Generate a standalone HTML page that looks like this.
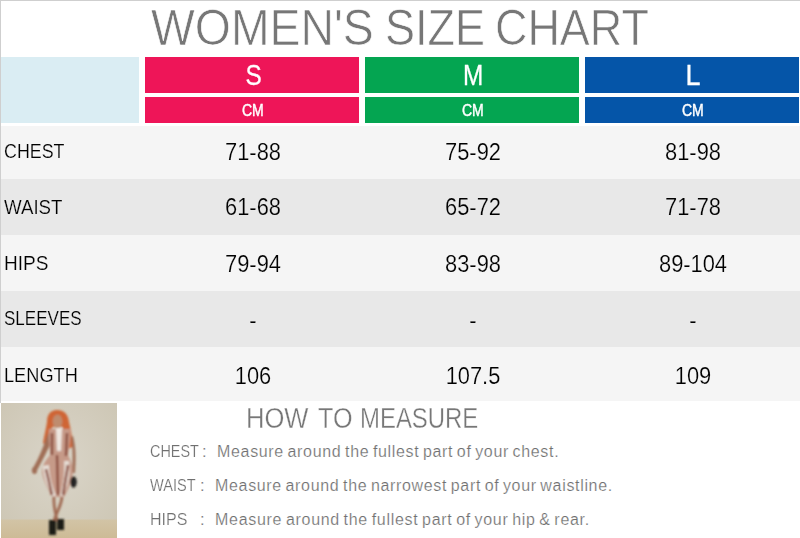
<!DOCTYPE html>
<html><head><meta charset="utf-8">
<style>
*{margin:0;padding:0;box-sizing:border-box}
html,body{width:800px;height:538px;overflow:hidden;background:#fff}
body{position:relative;font-family:"Liberation Sans",sans-serif}
.a{position:absolute;white-space:nowrap}
#bt{left:0;top:0;width:800px;height:1px;background:#cfcfcf}
#bl{left:0;top:0;width:1px;height:403px;background:#cfcfcf}
.hd{top:57px;height:36px;color:#fff;font-size:29px;line-height:37px;text-align:center;padding-left:3px}
.cm{top:97px;height:26px;color:#fff;font-size:16.5px;line-height:27px;text-align:center;padding-left:1px}
.cm span{display:inline-block;transform:scaleX(0.85);-webkit-text-stroke:0.45px #fff}
.hd span{display:inline-block;transform:scaleX(0.84);-webkit-text-stroke:0.3px #fff}
#lb{left:1px;top:57px;width:138px;height:66px;background:#daedf3}
.row{left:1px;width:799px;height:56px}
.lab{left:4px;font-size:21px;color:#000;line-height:54px;transform-origin:0 50%}
.val{width:214px;text-align:center;font-size:23px;color:#000;line-height:55px;transform:scaleX(0.95)}
.ms{font-size:16.5px;color:#707070;-webkit-text-stroke:0.2px #fff;line-height:22px;transform-origin:0 50%}
.how{top:402px;font-size:29px;color:#777;-webkit-text-stroke:0.35px #fff;line-height:32px;transform-origin:0 50%}
.tt{top:0;font-size:50px;color:#777;line-height:56px;-webkit-text-stroke:0.7px #fff;transform-origin:0 50%}
</style></head><body>
<div class="a" id="bt"></div>
<div class="a" id="bl"></div>
<div class="a tt" id="tw1" style="left:151.1px;transform:scaleX(0.928)">WOMEN'S</div>
<div class="a tt" id="tw2" style="left:384.8px;transform:scaleX(0.9)">SIZE</div>
<div class="a tt" id="tw3" style="left:495.3px;transform:scaleX(0.898)">CHART</div>
<div class="a" id="lb"></div>
<div class="a hd" style="left:145px;width:214px;background:#ee1558"><span id="hS">S</span></div>
<div class="a hd" style="left:365px;width:214px;background:#04a551"><span id="hM">M</span></div>
<div class="a hd" style="left:585px;width:214px;background:#0555a8"><span id="hL" style="transform:scaleX(0.93)">L</span></div>
<div class="a cm" style="left:145px;width:214px;background:#ee1558"><span id="cS">CM</span></div>
<div class="a cm" style="left:365px;width:214px;background:#04a551"><span id="cM">CM</span></div>
<div class="a cm" style="left:585px;width:214px;background:#0555a8"><span id="cL">CM</span></div>

<div class="a row" style="top:126px;height:53px;background:#f5f5f5"></div>
<div class="a row" style="top:179px;background:#e8e8e8"></div>
<div class="a row" style="top:235px;background:#f5f5f5"></div>
<div class="a row" style="top:291px;background:#e8e8e8"></div>
<div class="a row" style="top:347px;height:54px;background:#f5f5f5"></div>

<div class="a lab" id="l1" style="-webkit-text-stroke:0.2px #f5f5f5;transform:scaleX(0.850);top:124px">CHEST</div>
<div class="a lab" id="l2" style="-webkit-text-stroke:0.2px #e8e8e8;transform:scaleX(0.890);top:180px">WAIST</div>
<div class="a lab" id="l3" style="-webkit-text-stroke:0.2px #f5f5f5;transform:scaleX(0.908);top:236px">HIPS</div>
<div class="a lab" id="l4" style="-webkit-text-stroke:0.2px #e8e8e8;transform:scaleX(0.811);top:291px">SLEEVES</div>
<div class="a lab" id="l5" style="-webkit-text-stroke:0.2px #f5f5f5;transform:scaleX(0.866);top:348px">LENGTH</div>

<div class="a val" style="-webkit-text-stroke:0.2px #f5f5f5;top:125px;left:146px">71-88</div>
<div class="a val" style="-webkit-text-stroke:0.2px #f5f5f5;top:125px;left:366px">75-92</div>
<div class="a val" style="-webkit-text-stroke:0.2px #f5f5f5;top:125px;left:586px">81-98</div>
<div class="a val" style="-webkit-text-stroke:0.2px #e8e8e8;top:180px;left:146px">61-68</div>
<div class="a val" style="-webkit-text-stroke:0.2px #e8e8e8;top:180px;left:366px">65-72</div>
<div class="a val" style="-webkit-text-stroke:0.2px #e8e8e8;top:180px;left:586px">71-78</div>
<div class="a val" style="-webkit-text-stroke:0.2px #f5f5f5;top:237px;left:146px">79-94</div>
<div class="a val" style="-webkit-text-stroke:0.2px #f5f5f5;top:237px;left:366px">83-98</div>
<div class="a val" style="-webkit-text-stroke:0.2px #f5f5f5;top:237px;left:586px">89-104</div>
<div class="a val" style="-webkit-text-stroke:0.2px #e8e8e8;top:293px;left:146px">-</div>
<div class="a val" style="-webkit-text-stroke:0.2px #e8e8e8;top:293px;left:366px">-</div>
<div class="a val" style="-webkit-text-stroke:0.2px #e8e8e8;top:293px;left:586px">-</div>
<div class="a val" style="-webkit-text-stroke:0.2px #f5f5f5;top:349px;left:146px">106</div>
<div class="a val" style="-webkit-text-stroke:0.2px #f5f5f5;top:349px;left:366px">107.5</div>
<div class="a val" style="-webkit-text-stroke:0.2px #f5f5f5;top:349px;left:586px">109</div>

<svg class="a" id="photo" style="left:1px;top:403px" width="116" height="135" viewBox="0 0 116 135">
<defs>
<radialGradient id="wall" cx="0.5" cy="0.45" r="0.8"><stop offset="0" stop-color="#dad5c9"/><stop offset="1" stop-color="#cbc4b1"/></radialGradient>
<linearGradient id="floor" x1="0" y1="0" x2="0" y2="1"><stop offset="0" stop-color="#d2c4a6"/><stop offset="1" stop-color="#cdbb96"/></linearGradient>
<filter id="fblur" x="-30%" y="-30%" width="160%" height="160%"><feGaussianBlur stdDeviation="0.9"/></filter>
</defs>
<rect width="116" height="135" fill="url(#wall)"/>
<rect y="116.5" width="116" height="18.5" fill="url(#floor)"/>
<g filter="url(#fblur)">
<path d="M56 7 C49 7 46 12 46 19 C45 26 43 33 42 40 C44 42 48 42 50 40 L51 24 L62 24 L63 44 C66 46 70 46 72 43 C71 35 70 27 68 19 C67 11 63 7 56 7 Z" fill="#cf6534"/>
<ellipse cx="56.5" cy="18.5" rx="4.8" ry="7" fill="#bf8c6e"/>
<path d="M47 30 C43 42 39 53 32 65 L35.5 68 C42 57 47 46 51 38 Z" fill="#a06e56"/>
<path d="M70 34 C72 45 72 56 71 70 L74 70 C75 56 75 44 72 33 Z" fill="#a06e56"/>
<path d="M48 26 L69 26 C70 36 68 46 67 52 C71 60 73 67 71 75 C69 83 66 89 63 94 L51 94 C47 86 42 77 41 69 C41 62 45 57 49 52 C49 44 47 34 48 26 Z" fill="#c69a88"/>
<path d="M55 25 L61 25 L60 48 L56 48 Z" fill="#eee7e1"/>
<path d="M42 63 C42 72 46 83 51 93 L55 93 C51 82 48 72 48 62 Z" fill="#e8e0d8"/>
<path d="M63 58 C64 69 62 82 59 93 L62 93 C67 83 70 70 68 58 Z" fill="#e6ddd4"/>
<path d="M51 30 L51 52 M66 30 L65 53 M45 66 L51 92 M56 52 L57 92 M67 62 L62 92" stroke="#8a4a3a" stroke-width="2.4" fill="none"/>
<ellipse cx="33.5" cy="67.5" rx="2.6" ry="3.4" fill="#a06e56"/>
<path d="M53 94 C52 104 55 110 56 118 M61 94 C60 104 55 110 53 118" stroke="#a06a52" stroke-width="2.8" fill="none"/>
<ellipse cx="72.5" cy="79" rx="3.3" ry="5.8" fill="#242220"/>
<path d="M48 117 L55 117 L55 132 L48 132 Z" fill="#1c1a18"/>
<path d="M56 116 L63 116 L63 127 L56 127 Z" fill="#1c1a18"/>
</g>
</svg>

<div class="a how" id="hw1" style="left:246.2px;transform:scaleX(0.882)">HOW</div>
<div class="a how" id="hw2" style="left:318px;transform:scaleX(0.868)">TO</div>
<div class="a how" id="hw3" style="left:359.8px;transform:scaleX(0.825)">MEASURE</div>
<div class="a ms" id="k1" style="transform:scaleX(0.873);left:150px;top:440px">CHEST</div>
<div class="a ms" id="c1" style="left:202px;top:440px">:</div>
<div class="a ms" id="m1" style="font-size:16px;letter-spacing:0.67px;word-spacing:-1.5px;left:217px;top:441px">Measure around the fullest part of your chest.</div>
<div class="a ms" id="k2" style="transform:scaleX(0.882);left:150px;top:474px">WAIST</div>
<div class="a ms" id="c2" style="left:200px;top:474px">:</div>
<div class="a ms" id="m2" style="font-size:16px;letter-spacing:0.67px;word-spacing:-1.5px;left:215px;top:475px">Measure around the narrowest part of your waistline.</div>
<div class="a ms" id="k3" style="transform:scaleX(0.97);left:150px;top:508px">HIPS</div>
<div class="a ms" id="c3" style="left:200px;top:508px">:</div>
<div class="a ms" id="m3" style="font-size:16px;letter-spacing:0.71px;word-spacing:-1.5px;left:215px;top:509px">Measure around the fullest part of your hip &amp; rear.</div>
</body></html>
